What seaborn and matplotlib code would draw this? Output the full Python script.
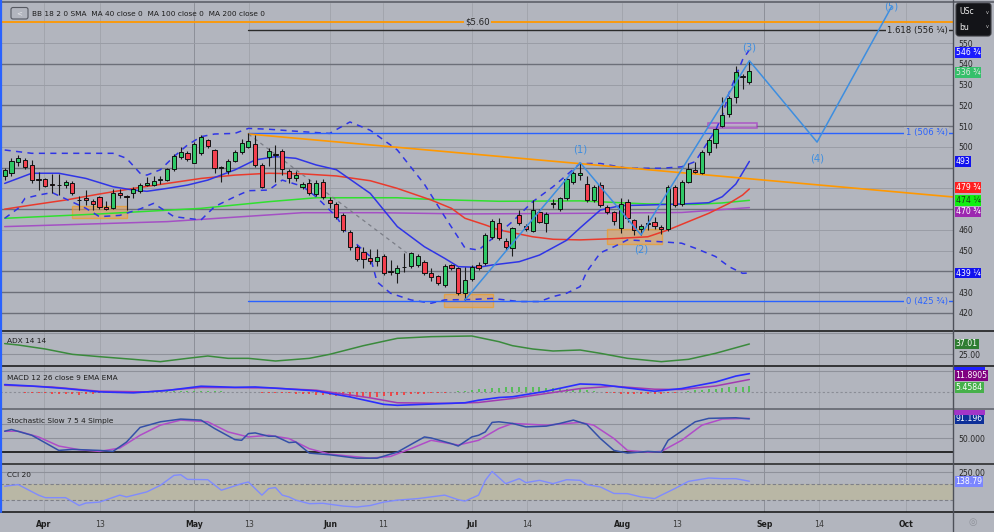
import matplotlib
matplotlib.use("Agg")
import matplotlib.pyplot as plt
import matplotlib.transforms as mtransforms
from matplotlib.patches import Rectangle, FancyBboxPatch
import pandas as pd
import seaborn as sns

# ---------------------------------------------------------------
# price bars (daily, bar 0 = first bar on the chart)
# ---------------------------------------------------------------
bar_open = [486, 487.3, 492.7, 493.6, 491.3, 484.2, 484.4, 481.8, 481.6, 481.6,
            482.7, 474.5, 475.4, 474, 475.7, 471.2, 470.6, 477.9, 476.2, 477.6,
            478.9, 481.5, 481.6, 484, 484, 489.3, 495, 496.9, 492.4, 496.9,
            503.3, 498.5, 489.8, 488.5, 493.3, 497.4, 500.1, 501.4, 491.3, 495.3,
            496, 498.1, 488.5, 484.9, 480.8, 482.7, 477.3, 483, 474.4, 472.5,
            467, 459, 451.6, 449.5, 446.3, 445.2, 447.4, 440, 439.1, 442,
            442.6, 443.1, 444.7, 439.4, 437.8, 433.5, 443.1, 441.5, 429.8, 436.2,
            443.1, 443.9, 456.7, 463.2, 454.8, 451.2, 467.2, 461.9, 459.6, 468.6,
            463.2, 472.6, 470, 475.2, 482.9, 486.4, 482.1, 474.4, 481.6, 470.9,
            468.5, 460.8, 473.6, 464.8, 460.3, 463, 463.6, 461.6, 460.3, 480.5,
            472.3, 483.2, 488.9, 487.3, 497.7, 502, 510, 515.8, 523.9, 534.1,
            531.4]
bar_high = [490, 494.5, 496, 494.5, 493.5, 488, 485, 487, 487, 484,
            483.5, 476.5, 479, 475, 476.5, 474, 479.5, 479.5, 477, 480.5,
            482.5, 485.6, 486, 486, 490, 496.5, 500, 498, 502.5, 505.5,
            504, 499, 491, 494, 498.5, 504, 506.7, 505.5, 492, 499.5,
            500.9, 499, 489.5, 488.5, 483, 484.5, 484, 484.5, 476, 473.5,
            468, 460, 452.5, 451.6, 451, 451, 448.3, 445.5, 443, 448.7,
            449.3, 448.3, 445.7, 441.7, 438.5, 443.5, 443.8, 442, 442.3, 443,
            444.5, 458.5, 465.5, 465.6, 456, 461.5, 469.8, 463, 474.4, 470,
            468.5, 475, 476, 485.2, 488.5, 492.4, 486, 481.5, 483, 472,
            469.2, 475.2, 475, 465.5, 463, 467.2, 466.4, 462.5, 481.5, 481.5,
            484, 492, 492.9, 498.5, 504.5, 508.9, 524.2, 524.5, 538.9, 535,
            541.5]
bar_low = [484, 486, 491, 489.5, 482.5, 479, 480.5, 478, 477, 480,
           477, 469.5, 472, 469.5, 470, 469.5, 470, 475.5, 469.5, 475.5,
           478, 481, 481, 482, 483.5, 488.5, 494, 493, 492, 496,
           499.5, 487.5, 483.2, 487, 492.5, 496.5, 499.5, 490.5, 480, 491,
           483.2, 486.5, 482.5, 483.5, 479.5, 477, 476.5, 475, 470.5, 465.5,
           459, 450.5, 445, 441.5, 443.6, 442.6, 438.5, 438.5, 434.6, 439.5,
           441.5, 442, 438.5, 435.5, 433.5, 432.7, 440.5, 428.5, 426.3, 435.5,
           440.5, 443, 455.5, 455.2, 450.5, 447.4, 462.5, 459.5, 459, 463.5,
           459.2, 470.5, 469, 474.5, 482, 484, 473.5, 473.5, 471, 467.5,
           462.5, 458.4, 464, 457.6, 457.5, 460, 460.3, 458, 459.5, 471,
           471.5, 482.5, 487.3, 487, 496, 499.3, 509.4, 514.5, 521, 527.7,
           530.5]
bar_close = [489, 493.3, 494.5, 490.4, 484, 484, 481.2, 481.6, 481.5, 483,
             477.9, 474.2, 474.3, 472.3, 470.9, 470.2, 477.9, 476.7, 476, 479.7,
             481.5, 482.4, 483.7, 484.2, 489.3, 495.7, 497.7, 494, 501.4, 504.9,
             500.4, 489.7, 489.9, 493.3, 497.7, 502, 503, 491.3, 480.5, 498,
             496.1, 489.2, 484.9, 486.4, 482, 477.6, 482.4, 475.7, 473, 466.4,
             460, 451.6, 445.9, 445.9, 445.2, 446.8, 439.4, 439.9, 441.7, 442.2,
             448.7, 447.4, 439.4, 437.2, 434.6, 442.8, 441.5, 429.8, 435.9, 442,
             441.5, 457.6, 464.3, 456, 451.9, 460.8, 463.2, 460.3, 469.6, 464,
             467.7, 472.8, 475.2, 484.4, 487.6, 487.6, 474.4, 480.5, 472, 468.8,
             464.3, 472.3, 465.6, 460, 461.9, 463.2, 461.9, 460.3, 480.5, 472,
             483.2, 489.3, 487.9, 497.7, 503.3, 508.5, 515.3, 523.4, 536.2, 533.5,
             536.75]

# ---------------------------------------------------------------
# overlays (bar number, value)
# ---------------------------------------------------------------
bb_mid_bar = [0, 4, 8, 12, 16, 19, 21, 24, 27, 30, 34, 37, 40, 43, 46, 49, 54, 58,
              62, 65, 67, 70, 72, 76, 79, 83, 85, 88, 91, 95, 100, 104, 106, 108, 110]
bb_mid = [482.4, 487.3, 487.3, 484.8, 480.8, 479.2, 478.6, 480, 481.6, 484, 488.9,
          493.7, 495.3, 494.5, 491.3, 489, 477.6, 461.6, 451.9, 446.3, 442.3, 442,
          443.1, 444.7, 447.9, 455, 461, 469.6, 471.7, 472, 472.5, 473.1, 476, 482.1, 493]
bb_up_bar = [0, 4, 9, 16, 18, 20, 21, 23, 25, 27, 29, 31, 34, 36, 39, 44, 48, 51, 54,
             58, 62, 65, 68, 70, 75, 78, 81, 85, 88, 92, 97, 100, 102, 104, 105, 106,
             107, 108, 109, 110]
bb_up = [498.5, 496.9, 496.9, 496.9, 494.5, 487.3, 486.4, 489, 495.3, 500.9, 504.9,
         506.2, 506.5, 508.9, 508.5, 507.3, 506.5, 512, 508, 498.5, 482, 466.4, 451.3,
         450.3, 464, 473.6, 480.8, 492, 492, 489.7, 489.7, 490.4, 492.9, 503, 508, 515,
         526, 534, 542, 546.75]
bb_lo_bar = [0, 2, 3, 5, 7, 12, 14, 17, 20, 22, 25, 29, 31, 34, 36, 39, 41, 44, 46, 48,
             49, 51, 54, 55, 57, 60, 63, 65, 69, 72, 76, 79, 81, 83, 85, 86, 88, 90, 92,
             97, 100, 102, 105, 107, 109, 110]
bb_lo = [465.6, 470.4, 475.2, 476.8, 478, 470.4, 466.4, 467, 470.1, 472.8, 466.4,
         464.8, 471.2, 476, 478.9, 479.2, 484, 481, 476, 469.6, 466.4, 456, 447.2, 435,
         429.5, 426.3, 424.7, 426.3, 426.5, 427, 425.5, 425.5, 427.9, 429.5, 432.7, 440,
         449, 451.9, 455.2, 454.3, 453.6, 451.2, 447.2, 442.3, 439.1, 439.25]

ma40_bar = [0, 4, 9, 14, 19, 24, 29, 34, 39, 44, 49, 54, 58, 63, 66, 68, 71, 73, 78, 81,
            85, 90, 95, 98, 101, 104, 107, 109, 110]
ma40 = [470, 472, 474.4, 477.3, 480, 482.4, 484.8, 486.4, 487.3, 487, 486, 483.7, 480,
        474.4, 470.4, 465.6, 462.4, 460, 456.7, 455.5, 455.2, 455.8, 456.7, 460, 464,
        468, 472.8, 476.8, 479.75]
ma100_bar = [0, 14, 29, 39, 46, 58, 63, 73, 85, 95, 102, 106, 110]
ma100 = [465.6, 467.7, 470.4, 473.6, 475.5, 475.5, 474.7, 473.8, 474, 472.5, 472.3, 473, 474.25]
ma200_bar = [0, 24, 44, 55, 68, 85, 100, 110]
ma200 = [461.6, 464, 468.3, 468.3, 467.7, 468, 468.4, 470.75]

# drawings
wave_bar = [68, 85, 94, 110, 120, 131]
wave_price = [426.3, 492.4, 457.6, 541.5, 502.3, 567.5]
wave_names = ["(1)", "(2)", "(3)", "(4)", "(5)"]
fib_start_bar = 36
fib_levels = [425.75, 506.75, 556.25]
fib_names = ["0 (425 ¾)", "1 (506 ¾)", "1.618 (556 ¼)"]
target_price = 560
trend_bar = [36, 140]
trend_price = [506.2, 475.9]
guide_bar = [36, 59.4]
guide_price = [506.2, 448.9]
zone_bars = [(9.9, 18.1), (64.9, 72.1), (89.0, 97.1)]
zone_prices = [(465.6, 471.7), (423.0, 429.0), (453.2, 460.3)]
pivot_bars = (103.9, 111.1)
pivot_prices = (508.9, 511.6)

# ---------------------------------------------------------------
# indicators (bar number, value)
# ---------------------------------------------------------------
adx_bar = [0, 2, 6, 10, 14, 19, 23, 27, 30, 33, 36, 40, 45, 48, 53, 58, 63, 69, 73, 75,
           78, 81, 85, 88, 92, 97, 101, 105, 110]
adx = [37.5, 35.8, 31, 24.6, 21.8, 18.6, 15.8, 19.8, 22.6, 19.8, 19.8, 16.6, 19.8, 24.6,
       35, 43.8, 45.8, 46.6, 39.8, 35, 31, 28.6, 29.8, 25.8, 19.8, 15.8, 18.6, 25.8, 37.01]

macd_bar = [0, 4, 9, 14, 19, 24, 29, 34, 37, 41, 46, 51, 56, 58, 63, 68, 70, 73, 75, 80,
            85, 88, 92, 96, 100, 105, 108, 110]
macd = [7.1, 5.8, 3.4, 0.3, -0.6, 1.6, 5.6, 4.6, 4.9, 3.4, 1.2, -4.4, -11.4, -12.3,
        -11.1, -9.9, -7.5, -5, -4.3, 0.9, 7.7, 7.1, 4, 0.9, 3.4, 9.5, 15.1, 17.35]
signal_bar = [0, 7, 14, 21, 29, 39, 46, 54, 58, 66, 70, 73, 75, 80, 85, 90, 96, 100, 105, 110]
signal = [6.5, 4.9, 0.9, 0.3, 4.4, 4, 1.9, -5.3, -9.9, -10.5, -9.6, -7.4, -5.9, -1.2,
          3.4, 5.6, 2.8, 2.5, 5.8, 11.89]
macd_hist = [0.3, 0.2, 0.0, -0.3,
             -0.6, -0.9, -1.2, -1.4, -1.6, -1.8, -2.0, -2.2, -2.0, -1.7, -1.2, -0.8,
             -0.4, -0.2, 0.1, 0.2, 0.3, 0.4, 0.5,
             0.7, 0.9, 1.2, 1.4, 1.5, 1.4, 1.2, 1.0, 0.8, 0.7, 0.6, 0.6, 0.5, 0.3,
             0.1, -0.3, -0.6, -0.8, -1.0, -1.2, -1.5, -1.7, -1.9, -2.2, -2.6, -3.0,
             -3.4, -3.8, -4.2, -4.5, -4.6, -4.5, -4.2, -3.8, -3.3, -2.9, -2.5, -2.1,
             -1.7, -1.3, -1.0, -0.7, -0.4,
             0.3, 0.8, 1.4, 2.0, 2.6, 3.2, 3.7, 4.1, 4.4, 4.6, 4.6, 4.5, 4.5, 4.4,
             4.3, 4.0, 3.6, 3.3, 3.0, 2.6, 1.8, 1.0, 0.3,
             -0.4, -1.0, -1.4, -1.7, -1.9, -2.0, -1.9, -1.7, -1.4, -1.0, -0.4,
             0.4, 1.0, 1.6, 2.2, 2.8, 3.3, 3.9, 4.5, 5.0, 5.3, 5.46]

stoch_k_bar = [0, 1, 4, 8, 10, 14, 16, 18, 20, 23, 26, 29, 31, 34, 35, 36, 37, 39, 40,
               42, 43, 45, 48, 52, 55, 58, 62, 63, 66, 67, 69, 70, 71, 72, 73, 75, 77,
               80, 82, 84, 86, 88, 90, 92, 95, 97, 98, 102, 104, 108, 110]
stoch_k = [65, 68.7, 56.4, 24.2, 26.4, 24.2, 22.1, 42, 73, 85, 90.8, 88.6, 70.8, 47.2,
           45.7, 60, 61.4, 54.3, 54.3, 40.8, 42, 18.5, 15, 7.7, 7.7, 20.6, 52.8, 50.6,
           38.6, 33.5, 52.8, 56.4, 63.5, 83.7, 85, 81.5, 74.2, 75.8, 81.5, 88.6, 79.4,
           49.4, 24.2, 18.5, 22.1, 20.6, 45.7, 85, 92.3, 93.6, 91.196]
stoch_d_bar = [0, 2, 5, 8, 11, 14, 17, 20, 23, 26, 30, 33, 36, 39, 42, 45, 48, 54, 57,
               60, 63, 67, 70, 73, 75, 80, 85, 87, 90, 92, 95, 97, 100, 103, 106, 110]
stoch_d = [65, 65, 52.8, 33.5, 25.8, 22.1, 29.2, 56.4, 77.9, 88.6, 85, 63.5, 52.8, 56.4,
           49.4, 27.9, 16.3, 7.7, 11.4, 27.9, 45.7, 35.6, 45.7, 70.8, 81.5, 77.9, 83.7,
           77.9, 49.4, 24.2, 20.6, 22.1, 45.7, 77.9, 90.8, 92.3]

cci_bar = [0, 2, 5, 6, 9, 11, 12, 14, 17, 18, 21, 23, 25, 26, 27, 30, 32, 35, 36, 38,
           39, 40, 41, 42, 43, 45, 47, 50, 52, 54, 56, 58, 61, 65, 67, 68, 70, 71, 72,
           74, 76, 77, 79, 81, 83, 85, 86, 88, 90, 92, 94, 95, 96, 97, 99, 101, 104,
           106, 108, 110]
cci = [75, 96, -37, -69, -69, -168, -137, -125, -37, -60, 4, 87, 212, 221, 162, 158, 25,
       108, 129, -37, 46, 59, -37, -60, -100, -145, -140, -175, -187, -168, -125, -100,
       -81, -37, -95, -112, -37, 150, 262, 108, 171, 121, 150, 108, 158, 150, 96, 66,
       -16, -18, -60, -69, -81, -37, 46, 137, 179, 171, 171, 138.79]

# date axis
tick_bar = [5.8, 14.1, 28.0, 36.1, 48.1, 55.9, 69.0, 77.2, 91.2, 99.3, 112.2, 120.3, 133.1]
tick_text = ["Apr", "13", "May", "13", "Jun", "11", "Jul", "14", "Aug", "13", "Sep", "14", "Oct"]

# price axis labels that sit under the value tags are not drawn
price_ticks = [420, 430, 450, 460, 500, 510, 520, 530, 540, 550]

# ---------------------------------------------------------------
W, H = 994, 532
PLOT_R = 953
XMIN, XMAX = -0.69, 140.08
BG = "#b2b5be"
UP = "#2fc866"
DOWN = "#f4404f"
BB_COL = "#2f35e6"
FS = 5.6


def px_axes(fig, x0, y0, x1, y1, **kw):
    return fig.add_axes([x0 / W, 1 - y1 / H, (x1 - x0) / W, (y1 - y0) / H], **kw)


def setup_panel(ax, ylim, yticks, yticklabels=None):
    ax.set_facecolor(BG)
    ax.set_xlim(XMIN, XMAX)
    ax.set_ylim(*ylim)
    for s in ax.spines.values():
        s.set_visible(False)
    ax.yaxis.tick_right()
    ax.set_yticks(yticks)
    if yticklabels is not None:
        ax.set_yticklabels(yticklabels)
    ax.tick_params(axis="y", length=0, pad=4, labelsize=FS, labelcolor="#262626")
    ax.set_xticks([])
    ax.set_xlabel("")
    ax.set_ylabel("")
    for b, t in zip(tick_bar, tick_text):
        col = "#8c8f98" if t in ("May", "Sep") else "#a2a5ad"
        ax.axvline(b, color=col, lw=0.7, zorder=0)


def value_tag(fig, ax, y, text, fc, tc="white"):
    trans = mtransforms.blended_transform_factory(ax.transAxes, ax.transData)
    trans = mtransforms.offset_copy(trans, fig=fig, x=2.5, y=0, units="dots")
    ax.text(1.0, y, text, transform=trans, ha="left", va="center", fontsize=FS,
            color=tc, clip_on=False, zorder=30,
            bbox=dict(boxstyle="square,pad=0.12", fc=fc, ec="none"))


def line(ax, xs, ys, color, lw=1.0, ls="-", z=3):
    sns.lineplot(x=xs, y=ys, ax=ax, color=color, linewidth=lw, linestyle=ls,
                 estimator=None, sort=False, zorder=z)
    ax.set_xlabel("")
    ax.set_ylabel("")


def draw_candles(ax, df):
    ax.vlines(df["bar"], df["low"], df["high"], color="#1b1b1b", lw=0.8, zorder=5)
    lo = df[["open", "close"]].min(axis=1)
    hi = df[["open", "close"]].max(axis=1)
    height = (hi - lo).clip(lower=0.35)
    colors = [UP if c > o else DOWN for o, c in zip(df["open"], df["close"])]
    ax.bar(df["bar"], height, bottom=lo, width=0.62, color=colors,
           edgecolor="#111111", linewidth=0.7, zorder=6)


def main():
    sns.set_theme(style="white")
    plt.rcParams["font.family"] = ["DejaVu Sans"]

    bars = pd.DataFrame({"open": bar_open, "high": bar_high,
                         "low": bar_low, "close": bar_close})
    bars["bar"] = range(len(bars))

    fig = plt.figure(figsize=(W / 100, H / 100), dpi=100)
    fig.patch.set_facecolor(BG)

    ax_p = px_axes(fig, 0, 3, PLOT_R, 330)
    ax_adx = px_axes(fig, 0, 331, PLOT_R, 366)
    ax_macd = px_axes(fig, 0, 366.5, PLOT_R, 409)
    ax_st = px_axes(fig, 0, 409, PLOT_R, 463.5)
    ax_cci = px_axes(fig, 0, 463.5, PLOT_R, 512)

    # ---------------- price panel ----------------
    setup_panel(ax_p, (411.8, 569.3), price_ticks)
    dark_levels = [540, 520, 510, 490, 470, 440, 430, 420]
    for lvl in range(420, 551, 10):
        dark = lvl in dark_levels
        ax_p.axhline(lvl, color="#6c6f79" if dark else "#9a9da6",
                     lw=1.0 if dark else 0.7, zorder=1)

    for (b0, b1), (p0, p1) in zip(zone_bars, zone_prices):
        ax_p.add_patch(Rectangle((b0, p0), b1 - b0, p1 - p0, fc="#e6a259", alpha=0.55,
                                 ec="#ff9800", lw=1.0, zorder=2))
    ax_p.add_patch(Rectangle((pivot_bars[0], pivot_prices[0]), pivot_bars[1] - pivot_bars[0],
                             pivot_prices[1] - pivot_prices[0], fc="#c9a6d6", alpha=0.6,
                             ec="#a21fc4", lw=1.1, zorder=2))

    line(ax_p, ma200_bar, ma200, "#a450c4", lw=1.1)
    line(ax_p, ma100_bar, ma100, "#2fe02f", lw=1.1)
    line(ax_p, ma40_bar, ma40, "#ea3a2c", lw=1.1)
    line(ax_p, bb_mid_bar, bb_mid, BB_COL, lw=1.1)
    line(ax_p, bb_up_bar, bb_up, BB_COL, lw=1.1, ls=(0, (4, 3.5)))
    line(ax_p, bb_lo_bar, bb_lo, BB_COL, lw=1.1, ls=(0, (4, 3.5)))

    # drawings
    ax_p.axhline(target_price, color="#ff9800", lw=1.3, zorder=3)
    ax_p.text(69.8, target_price, "$5.60", ha="center", va="center", fontsize=FS + 0.6,
              color="#222222", zorder=8, bbox=dict(boxstyle="square,pad=0.15", fc=BG, ec="none"))
    fib_cols = ["#2962ff", "#2962ff", "#2b2b2b"]
    for lvl, name, col in zip(fib_levels, fib_names, fib_cols):
        ax_p.plot([fib_start_bar, XMAX], [lvl, lvl], color=col, lw=1.0, zorder=3)
        ax_p.text(139.3, lvl, name, ha="right", va="center", fontsize=FS + 0.5,
                  color=col if col != "#2b2b2b" else "#1f1f1f", zorder=8,
                  bbox=dict(boxstyle="square,pad=0.15", fc=BG, ec="none"))
    line(ax_p, trend_bar, trend_price, "#ff9800", lw=1.2)
    line(ax_p, guide_bar, guide_price, "#7b7e87", lw=0.9, ls=(0, (3, 3)))

    draw_candles(ax_p, bars)

    line(ax_p, wave_bar, wave_price, "#3d8ee0", lw=1.1, z=7)
    wave_label_y = [498.5, 450.8, 548.1, 494.6, 567.8]
    for b, y, name in zip(wave_bar[1:], wave_label_y, wave_names):
        ax_p.text(b, y, name, ha="center", va="center", fontsize=7.2, color="#3d8ee0", zorder=8)

    value_tag(fig, ax_p, 545.6, "546 ¾", "#1c1cff")
    value_tag(fig, ax_p, 535.7, "536 ¾", "#35c06a", tc="#dfe8df")
    value_tag(fig, ax_p, 492.9, "493", "#1111ee")
    value_tag(fig, ax_p, ma40[-1] + 0.6, "479 ¾", "#ff1f1f")
    value_tag(fig, ax_p, ma100[-1], "474 ¼", "#10ee10", tc="#1a3a1a")
    value_tag(fig, ax_p, ma200[-1] - 2.1, "470 ¾", "#9c27b0")
    value_tag(fig, ax_p, bb_lo[-1], "439 ¼", "#1111ee")

    # ---------------- ADX ----------------
    setup_panel(ax_adx, (10.6, 52.6), [25], ["25.00"])
    for lvl in (50, 25):
        ax_adx.axhline(lvl, color="#8e919a", lw=0.8, zorder=1)
    line(ax_adx, adx_bar, adx, "#3a8a3c", lw=1.1)
    value_tag(fig, ax_adx, adx[-1], "37.01", "#2e7d32")

    # ---------------- MACD ----------------
    setup_panel(ax_macd, (-15.74, 24.07), [])
    ax_macd.axhline(20, color="#8e919a", lw=0.8, zorder=1)
    ax_macd.axhline(0, color="#8a8d96", lw=0.8, ls=(0, (2, 2)), zorder=1)
    hist_cols = ["#3fbf3f" if v >= 0 else "#ff2a2a" for v in macd_hist]
    ax_macd.vlines(bars["bar"], 0, macd_hist, colors=hist_cols, lw=1.1, zorder=2)
    line(ax_macd, signal_bar, signal, "#a23ab0", lw=1.1)
    line(ax_macd, macd_bar, macd, "#2a2eff", lw=1.2)
    value_tag(fig, ax_macd, 15.6, "11.8905", "#800080")
    value_tag(fig, ax_macd, 4.8, "5.4584", "#46b04a")

    # ---------------- Stochastic ----------------
    setup_panel(ax_st, (-3.6, 112.2), [50], ["50.000"])
    ax_st.axhline(80, color="#8e919a", lw=0.8, zorder=1)
    ax_st.axhline(50, color="#8e919a", lw=0.8, zorder=1)
    ax_st.axhline(20, color="#111111", lw=1.2, zorder=1)
    line(ax_st, stoch_d_bar, stoch_d, "#b04cc8", lw=1.1)
    line(ax_st, stoch_k_bar, stoch_k, "#3450a8", lw=1.1)
    value_tag(fig, ax_st, stoch_k[-1], "91.196", "#0d2f99")

    # ---------------- CCI ----------------
    setup_panel(ax_cci, (-250, 362.5), [250], ["250.00"])
    ax_cci.axhline(250, color="#8e919a", lw=0.8, zorder=1)
    ax_cci.axhspan(-100, 100, color="#b9b7a5", zorder=0.5, lw=0)
    for lvl in (100, -100):
        ax_cci.axhline(lvl, color="#7e8088", lw=0.8, ls=(0, (3, 2)), zorder=1)
    line(ax_cci, cci_bar, cci, "#7f8bff", lw=1.0)
    value_tag(fig, ax_cci, cci[-1], "138.79", "#7b86ff")

    ax_cci.set_xticks(tick_bar)
    ax_cci.set_xticklabels(tick_text)
    ax_cci.tick_params(axis="x", length=0, pad=6, labelsize=FS, labelcolor="#1e1e1e")
    for lab in ax_cci.get_xticklabels():
        if not lab.get_text().isdigit():
            lab.set_fontweight("bold")
        else:
            lab.set_color("#3a3a3a")

    # ---------------- frame / UI pieces ----------------
    ui = fig.add_axes([0, 0, 1, 1], zorder=20)
    ui.set_xlim(0, W)
    ui.set_ylim(H, 0)
    ui.axis("off")
    ui.patch.set_alpha(0)
    ui.plot([0, W], [1.5, 1.5], color="#5d6069", lw=1.2)
    for y, col in ((330.5, "#111111"), (366.2, "#111111"), (409, "#5d6069"),
                   (463.5, "#222222"), (512, "#111111")):
        ui.plot([0, W], [y, y], color=col, lw=1.1)
    ui.plot([PLOT_R, PLOT_R], [0, H], color="#4d5059", lw=1.0)
    ui.plot([0.8, 0.8], [0, 512], color="#2962ff", lw=1.6)
    # tags pushed almost out of view by the ones below them
    ui.add_patch(Rectangle((PLOT_R + 0.5, 367), 31, 2.5, fc="#2121ff", ec="none"))
    ui.add_patch(Rectangle((PLOT_R + 0.5, 410), 31, 4.5, fc="#a335c8", ec="none"))

    ui.add_patch(FancyBboxPatch((11, 7.5), 17, 11.5, boxstyle="round,pad=0,rounding_size=2",
                                fc="none", ec="#565962", lw=0.8))
    ui.text(19.5, 13.2, "<", ha="center", va="center", fontsize=5, color="#e8e8ec")
    lab_fs = 5.3
    ui.text(32, 14, "BB 18 2 0 SMA  MA 40 close 0  MA 100 close 0  MA 200 close 0",
            ha="left", va="center", fontsize=lab_fs, color="#1c1c1c")
    ui.text(7, 341, "ADX 14 14", ha="left", va="center", fontsize=lab_fs, color="#1c1c1c")
    ui.text(7, 378, "MACD 12 26 close 9 EMA EMA", ha="left", va="center", fontsize=lab_fs,
            color="#1c1c1c")
    ui.text(7, 421, "Stochastic Slow 7 5 4 Simple", ha="left", va="center", fontsize=lab_fs,
            color="#1c1c1c")
    ui.text(7, 475, "CCI 20", ha="left", va="center", fontsize=lab_fs, color="#1c1c1c")

    ui.add_patch(FancyBboxPatch((956, 3), 35, 33, boxstyle="round,pad=0,rounding_size=3",
                                fc="#131418", ec="#3a3b40", lw=0.8))
    ui.text(959, 12, "USc", ha="left", va="center", fontsize=FS, color="#f0f0f0")
    ui.text(959, 27, "bu", ha="left", va="center", fontsize=FS, color="#f0f0f0")
    ui.text(987, 12, "v", ha="center", va="center", fontsize=3.5, color="#cccccc")
    ui.text(987, 27, "v", ha="center", va="center", fontsize=3.5, color="#cccccc")
    ui.text(973, 522, "◎", ha="center", va="center", fontsize=7, color="#8f929a")

    fig.savefig("out.png", dpi=100, facecolor=BG)
    print("chart saved to out.png")


if __name__ == "__main__":
    main()
